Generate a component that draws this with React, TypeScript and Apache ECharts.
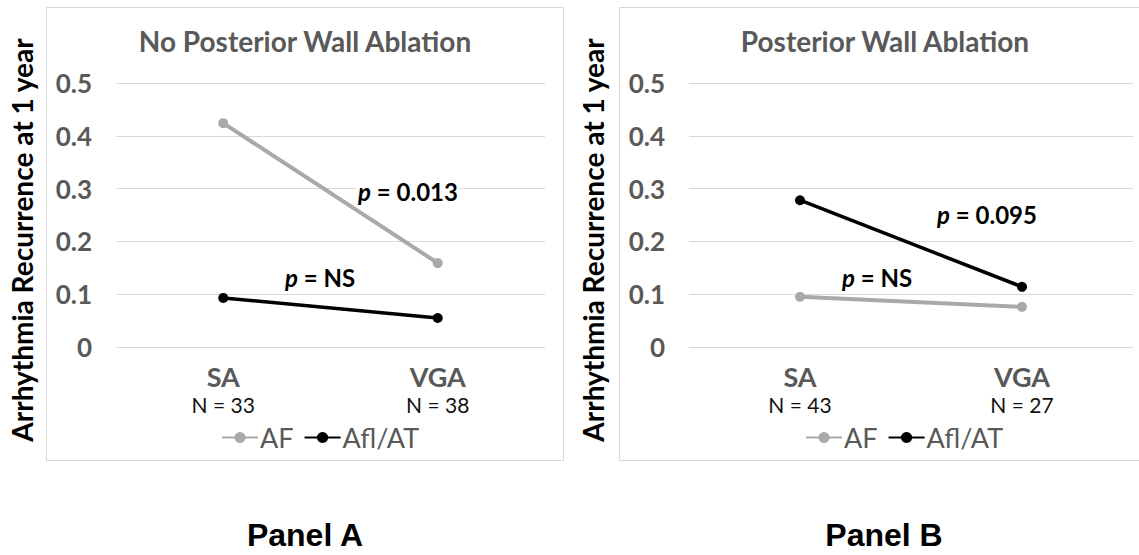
import React, { useEffect, useRef } from "react";
import * as echarts from "echarts";

const categories = ["SA", "VGA"];
const nPanelA = [33, 38];
const nPanelB = [43, 27];
const afPanelA = [0.424, 0.159];
const aflPanelA = [0.093, 0.055];
const afPanelB = [0.095, 0.076];
const aflPanelB = [0.278, 0.114];
const yTicks = { min: 0, max: 0.5, interval: 0.1 };
const titles = ["No Posterior Wall Ablation", "Posterior Wall Ablation"];
const panelLabels = ["Panel A", "Panel B"];
const pLabels = [
  ["0.013", "NS"],
  ["0.095", "NS"],
];
const legendNames = ["AF", "Afl/AT"];
const yAxisName = "Arrhythmia Recurrence at 1 year";

const FONT = "Lato, 'Open Sans', sans-serif";
const GRAY = "#595959";
const AF_COLOR = "#a9a9a9";
const AFL_COLOR = "#000000";

export default function App() {
  const ref = useRef<HTMLDivElement>(null);
  useEffect(() => {
    document.body.style.margin = "0";
    const chart = echarts.init(ref.current!, null, { renderer: "svg" });

    const xAxis = (nArr: number[], gridIndex: number) => ({
      type: "category",
      gridIndex,
      data: categories,
      boundaryGap: true,
      axisLine: { show: false },
      axisTick: { show: false },
      axisLabel: {
        margin: 14,
        formatter: (v: string, i: number) => `{a|${v}}\n{b|N = ${nArr[i]}}`,
        rich: {
          a: { fontFamily: FONT, fontWeight: "bold", fontSize: 27, color: GRAY, lineHeight: 31 },
          b: { fontFamily: FONT, fontSize: 21, color: "#111", lineHeight: 24 },
        },
      },
    });
    const yAxis = (gridIndex: number) => ({
      type: "value",
      gridIndex,
      min: yTicks.min,
      max: yTicks.max,
      interval: yTicks.interval,
      axisLine: { show: false },
      axisTick: { show: false },
      splitLine: { lineStyle: { color: "#d9d9d9", width: 1 } },
      axisLabel: {
        margin: 24,
        fontFamily: FONT,
        fontWeight: "bold",
        fontSize: 26,
        color: GRAY,
        formatter: (v: number) => (v === 0 ? "0" : v.toFixed(1)),
      },
    });
    const lineSeries = (name: string, data: number[], color: string, idx: number, width: number) => ({
      type: "line",
      name,
      data,
      xAxisIndex: idx,
      yAxisIndex: idx,
      symbol: "circle",
      symbolSize: 10,
      lineStyle: { color, width },
      itemStyle: { color },
      z: color === AFL_COLOR ? 3 : 2,
    });

    const pText = (x: number, y: number, val: string) => ({
      type: "text",
      x,
      y,
      z: 10,
      style: {
        text: `{i|p}{b| = ${val}}`,
        textAlign: "left",
        textVerticalAlign: "middle",
        backgroundColor: "#ffffff",
        padding: [0, 2],
        rich: {
          i: { fontFamily: FONT, fontWeight: "bold", fontStyle: "italic", fontSize: 24, fill: "#000" },
          b: { fontFamily: FONT, fontWeight: "bold", fontSize: 24, fill: "#000" },
        },
      },
    });

    const legend = (left: number) => ({
      left,
      top: 419,
      data: legendNames,
      itemWidth: 36,
      itemHeight: 14,
      itemGap: 10,
      textStyle: { fontFamily: FONT, fontSize: 27, color: GRAY, padding: [0, 0, 0, -3] },
    });

    const centerText = (x: number, y: number, text: string, size: number, fill: string, family = FONT, rotation = 0) => ({
      type: "text",
      x,
      y,
      rotation,
      style: { text, textAlign: "center", textVerticalAlign: "middle", fontFamily: family, fontWeight: "bold", fontSize: size, fill },
    });

    chart.setOption({
      animation: false,
      grid: [
        { left: 116, top: 83, width: 429, height: 264 },
        { left: 689, top: 83, width: 444, height: 264 },
      ],
      xAxis: [xAxis(nPanelA, 0), xAxis(nPanelB, 1)],
      yAxis: [yAxis(0), yAxis(1)],
      legend: [legend(216), legend(800)],
      series: [
        lineSeries(legendNames[0], afPanelA, AF_COLOR, 0, 4),
        lineSeries(legendNames[1], aflPanelA, AFL_COLOR, 0, 3.5),
        lineSeries(legendNames[0], afPanelB, AF_COLOR, 1, 4),
        lineSeries(legendNames[1], aflPanelB, AFL_COLOR, 1, 3.5),
      ],
      graphic: [
        { type: "rect", shape: { x: 46.5, y: 7.5, width: 517, height: 453 }, style: { fill: "none", stroke: "#d9d9d9", lineWidth: 1 } },
        { type: "rect", shape: { x: 619.5, y: 7.5, width: 540, height: 453 }, style: { fill: "none", stroke: "#d9d9d9", lineWidth: 1 } },
        centerText(305, 41, titles[0], 28, GRAY),
        centerText(885, 41, titles[1], 28, GRAY),
        centerText(22, 240, yAxisName, 28, "#000", FONT, Math.PI / 2),
        centerText(593, 240, yAxisName, 28, "#000", FONT, Math.PI / 2),
        pText(356, 191, pLabels[0][0]),
        pText(283, 277, pLabels[0][1]),
        pText(935, 214, pLabels[1][0]),
        pText(840, 277, pLabels[1][1]),
        centerText(305, 535, panelLabels[0], 32, "#000", "'Liberation Sans', Arial, sans-serif"),
        centerText(884, 535, panelLabels[1], 32, "#000", "'Liberation Sans', Arial, sans-serif"),
      ],
    });
    return () => chart.dispose();
  }, []);
  return <div ref={ref} style={{ width: 1139, height: 555 }} />;
}
